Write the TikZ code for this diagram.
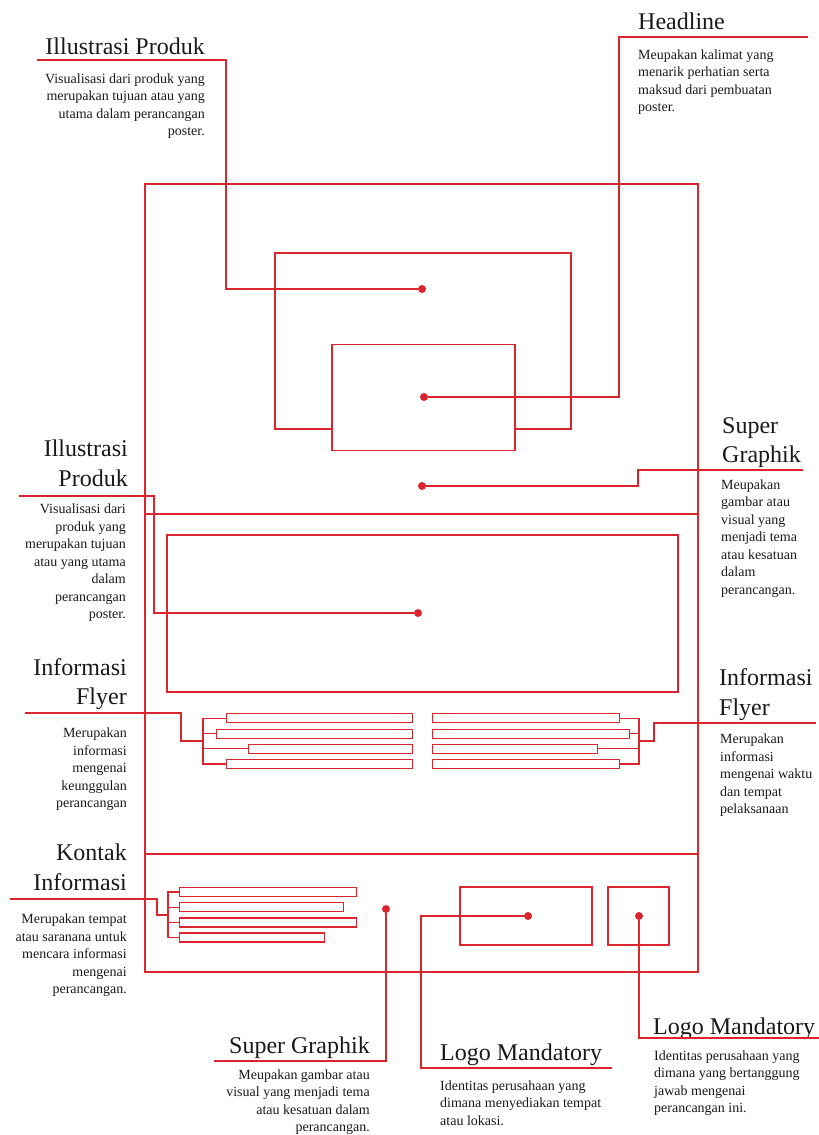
\documentclass[tikz,border=0pt]{standalone}
\usepackage{fontspec}
\setmainfont{Liberation Serif}
\usepackage{tikz}
\usetikzlibrary{positioning}
\definecolor{lred}{RGB}{218,36,46}
\definecolor{ink}{RGB}{25,25,25}

\begin{document}
\begin{tikzpicture}[x=1pt, y=-1pt,
	box/.style={draw=lred, line width=1.2pt, rectangle, inner sep=0pt},
	bar/.style={draw=lred, line width=1.1pt, rectangle, inner sep=0pt, minimum height=9pt},
	lead/.style={draw=lred, line width=1.2pt},
	dot/.style={circle, fill=lred, inner sep=0pt, minimum size=8pt},
	title/.style={font=\fontsize{24}{29.5}\selectfont, text=ink, inner sep=0pt, text width=200pt},
	desc/.style={font=\fontsize{14}{17.5}\selectfont, text=ink, inner sep=0pt, text width=200pt}]
			
			\useasboundingbox (0,0) rectangle (819,1135);
			
			%Frame
			\node (poster) at (421.5,578) [box, minimum width=553pt, minimum height=788pt]{};
			\draw[lead] (145,514) -- (698,514);
			\draw[lead] (145,854) -- (698,854);
			
			%Boxes
			\node (produk) at (423,341) [box, minimum width=296pt, minimum height=176pt]{};
			\node (headline) at (423.5,397.5) [box, fill=white, minimum width=183pt, minimum height=106pt]{};
			\node (gambar) at (422.5,613.5) [box, minimum width=511pt, minimum height=157pt]{};
			\node (logoA) at (526,916) [box, minimum width=132pt, minimum height=58pt]{};
			\node (logoB) at (638.5,916) [box, minimum width=61pt, minimum height=58pt]{};
			
			\node (bL1) at (226,718.3) [bar, anchor=west, minimum width=186pt]{};
			\node (bL2) at (216,733.8) [bar, anchor=west, minimum width=196pt]{};
			\node (bL3) at (248,748.8) [bar, anchor=west, minimum width=164pt]{};
			\node (bL4) at (226,764) [bar, anchor=west, minimum width=186pt]{};
			
			\node (bR1) at (432,718.3) [bar, anchor=west, minimum width=187pt]{};
			\node (bR2) at (432,733.8) [bar, anchor=west, minimum width=197pt]{};
			\node (bR3) at (432,748.8) [bar, anchor=west, minimum width=165pt]{};
			\node (bR4) at (432,764) [bar, anchor=west, minimum width=187pt]{};
			
			\node (bK1) at (179,892) [bar, anchor=west, minimum width=177pt]{};
			\node (bK2) at (179,907.2) [bar, anchor=west, minimum width=164pt]{};
			\node (bK3) at (179,922.5) [bar, anchor=west, minimum width=177pt]{};
			\node (bK4) at (179,937.5) [bar, anchor=west, minimum width=145pt]{};
			
			%Dots
			\node (dA) at (422,289) [dot]{};
			\node (dB) at (424,397) [dot]{};
			\node (dC) at (422,486) [dot]{};
			\node (dD) at (418,613) [dot]{};
			\node (dE) at (386,909) [dot]{};
			\node (dF) at (528,916) [dot]{};
			\node (dG) at (639,916) [dot]{};
			
			%Labels
			\node (tA) at (205,54) [title, anchor=base east, align=flush right]{Illustrasi Produk};
			\node (xA) at (205,83) [desc, anchor=base east, align=flush right]{Visualisasi dari produk yang\\ merupakan tujuan atau yang\\ utama dalam perancangan\\ poster.};
			
			\node (tB) at (638,29) [title, anchor=base west, align=flush left]{Headline};
			\node (xB) at (638,59) [desc, anchor=base west, align=flush left]{Meupakan kalimat yang\\ menarik perhatian serta\\ maksud dari pembuatan\\ poster.};
			
			\node (tC) at (722,433) [title, anchor=base west, align=flush left]{Super\\ Graphik};
			\node (xC) at (721,489) [desc, anchor=base west, align=flush left]{Meupakan\\ gambar atau\\ visual yang\\ menjadi tema\\ atau kesatuan\\ dalam\\ perancangan.};
			
			\node (tD) at (128,456.7) [title, anchor=base east, align=flush right]{Illustrasi\\ Produk};
			\node (xD) at (126,513.5) [desc, anchor=base east, align=flush right]{Visualisasi dari\\ produk yang\\ merupakan tujuan\\ atau yang utama\\ dalam\\ perancangan\\ poster.};
			
			\node (tF) at (127,675) [title, anchor=base east, align=flush right]{Informasi\\ Flyer};
			\node (xF) at (127,737.5) [desc, anchor=base east, align=flush right]{Merupakan\\ informasi\\ mengenai\\ keunggulan\\ perancangan};
			
			\node (tR) at (719,685.7) [title, anchor=base west, align=flush left]{Informasi\\ Flyer};
			\node (xR) at (720,743.5) [desc, anchor=base west, align=flush left]{Merupakan\\ informasi\\ mengenai waktu\\ dan tempat\\ pelaksanaan};
			
			\node (tK) at (127,860.7) [title, anchor=base east, align=flush right]{Kontak\\ Informasi};
			\node (xK) at (127,923.5) [desc, anchor=base east, align=flush right]{Merupakan tempat\\ atau saranana untuk\\ mencara informasi\\ mengenai\\ perancangan.};
			
			\node (tE) at (370,1053) [title, anchor=base east, align=flush right]{Super Graphik};
			\node (xE) at (370,1079) [desc, anchor=base east, align=flush right]{Meupakan gambar atau\\ visual yang menjadi tema\\ atau kesatuan dalam\\ perancangan.};
			
			\node (tM) at (440,1060) [title, anchor=base west, align=flush left]{Logo Mandatory};
			\node (xM) at (440,1090) [desc, anchor=base west, align=flush left]{Identitas perusahaan yang\\ dimana menyediakan tempat\\ atau lokasi.};
			
			\node (tG) at (653,1034) [title, anchor=base west, align=flush left]{Logo Mandatory};
			\node (xG) at (654,1060) [desc, anchor=base west, align=flush left]{Identitas perusahaan yang\\ dimana yang bertanggung\\ jawab mengenai\\ perancangan ini.};
			
			%Links
			\coordinate (lA) at (37,60);
			\coordinate (lB) at (808,37);
			\coordinate (lC) at (803,470);
			\coordinate (lD) at (19,496);
			\coordinate (lE) at (214,1061);
			\coordinate (lF) at (612,1068);
			\coordinate (lG) at (819,1038);
			\draw[lead] (lA) -- ++(189,0) |- (dA);
			\draw[lead] (lB) -- ++(-189,0) |- (dB);
			\draw[lead] (lC) -- ++(-165,0) |- (dC);
			\draw[lead] (lD) -- ++(135,0) |- (dD);
			\draw[lead] (lE) -| (dE);
			\draw[lead] (lF) -- ++(-191,0) |- (dF);
			\draw[lead] (lG) -| (dG);
			
			%Brackets
			\coordinate (kL) at (203,741);
			\coordinate (kR) at (639,741);
			\coordinate (kK) at (168,915);
			\foreach \i in {1,...,4}{
				\draw[lead] (bL\i.west) -| (kL);
				\draw[lead] (bR\i.east) -| (kR);
				\draw[lead] (bK\i.west) -| (kK);
			}
			\coordinate (fL) at (25,713);
			\coordinate (fR) at (816,723);
			\coordinate (fK) at (10,899);
			\draw[lead] (fL) -- ++(156,0) |- (kL);
			\draw[lead] (fR) -- ++(-162,0) |- (kR);
			\draw[lead] (fK) -- ++(147,0) |- (kK);
			
\end{tikzpicture}
\end{document}
